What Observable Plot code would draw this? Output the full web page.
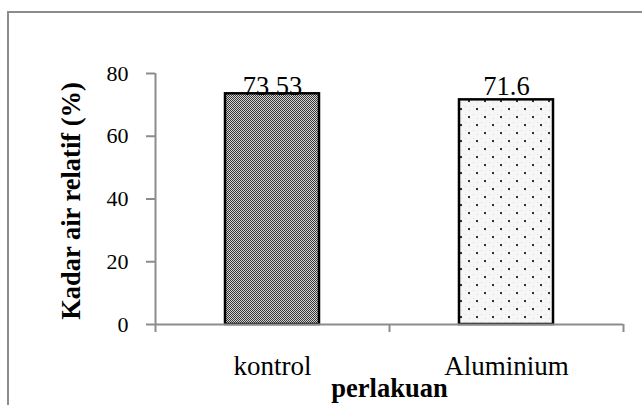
<!DOCTYPE html>
<html>
<head>
<meta charset="utf-8">
<script src="https://cdn.jsdelivr.net/npm/d3@7"></script>
<script src="https://cdn.jsdelivr.net/npm/@observablehq/plot@0.6"></script>
<style>
  html, body { margin: 0; padding: 0; background: #fff; }
  #wrap { position: relative; width: 642px; height: 405px; overflow: hidden; background: #fff; }
  #chart { position: absolute; left: 0; top: 0; }
  #border { position: absolute; left: 7px; top: 11px; width: 700px; height: 500px;
            border-left: 2px solid #8c8c8c; border-top: 2px solid #8c8c8c; pointer-events: none; }
</style>
</head>
<body>
<div id="wrap"><div id="chart"></div><div id="border"></div></div>
<script>
const categories = ["kontrol", "Aluminium"];
const values = [73.53, 71.6];
const valueLabels = ["73.53", "71.6"];
const yTicks = [0, 20, 40, 60, 80];
const xTitle = "perlakuan";
const yTitle = "Kadar air relatif (%)";

const data = categories.map((c, i) => ({category: c, value: values[i], label: valueLabels[i]}));
const halfStep = 117;
const gray = "#8c8c8c";
const font = "'Liberation Serif', 'Times New Roman', Times, serif";

const chart = Plot.plot({
  width: 642,
  height: 405,
  marginLeft: 155,
  marginRight: 19,
  marginTop: 73,
  marginBottom: 81,
  style: {fontFamily: font, fontSize: "27px", color: "#000", background: "transparent"},
  x: {domain: categories, paddingInner: 0.6, paddingOuter: 0.3, label: null},
  y: {domain: [0, 80], label: null},
  color: {domain: categories, range: ["url(#patKontrol)", "url(#patAlu)"]},
  marks: [
    Plot.barY(data, {x: "category", y: "value", fill: "category", stroke: "#000", strokeWidth: 2.5}),
    Plot.ruleY([0], {stroke: gray, strokeWidth: 2}),
    Plot.ruleX([categories[0]], {x: d => d, dx: -halfStep, y1: 80, y2: 0, insetBottom: -8, stroke: gray, strokeWidth: 2}),
    Plot.ruleX(categories.slice(1), {x: d => d, dx: -halfStep, y1: 0, y2: 0, insetBottom: -8, stroke: gray, strokeWidth: 2}),
    Plot.ruleX(categories.slice(-1), {x: d => d, dx: halfStep, y1: 0, y2: 0, insetBottom: -8, stroke: gray, strokeWidth: 2}),
    Plot.axisY({ticks: yTicks, tickSize: 9, tickPadding: 18, fontSize: 22, stroke: gray, strokeWidth: 2, label: null, tickFormat: d => String(d)}),
    Plot.axisX({tickSize: 0, tickPadding: 31, fontSize: 27, label: null}),
    Plot.text(data, {x: "category", text: "label", frameAnchor: "top", lineAnchor: "bottom", dy: 21, fontSize: 26.5}),
    Plot.text([xTitle], {text: d => d, frameAnchor: "bottom", lineAnchor: "bottom", dy: 72, fontSize: 26.5, fontWeight: "bold"}),
    Plot.text([yTitle], {text: d => d, frameAnchor: "left", textAnchor: "middle", rotate: -90, lineAnchor: "bottom", dx: -76, dy: 2, fontSize: 26.5, fontWeight: "bold"})
  ]
});

d3.select(chart).selectAll('[aria-label="y-axis tick label"]').style("font-size", "22px")
  .selectAll("text").style("font-size", "22px");

const defs = d3.select(chart).insert("defs", ":first-child");
const p1 = defs.append("pattern").attr("id", "patKontrol").attr("patternUnits", "userSpaceOnUse")
  .attr("width", 2).attr("height", 2);
p1.append("rect").attr("width", 2).attr("height", 2).attr("fill", "#d4d4d4");
p1.append("rect").attr("width", 1).attr("height", 1).attr("fill", "#383838");
p1.append("rect").attr("x", 1).attr("y", 1).attr("width", 1).attr("height", 1).attr("fill", "#383838");

const p2 = defs.append("pattern").attr("id", "patAlu").attr("patternUnits", "userSpaceOnUse")
  .attr("width", 16).attr("height", 16);
p2.append("rect").attr("width", 16).attr("height", 16).attr("fill", "#f6f6f6");
[[0,0],[8,8],[4,4],[12,12],[0,8],[8,0],[12,4],[4,12]].forEach(([x, y]) =>
  p2.append("rect").attr("x", x + 1).attr("y", y + 2).attr("width", 1).attr("height", 1).attr("fill", "#d6d6d6"));
[[4,4],[12,12]].forEach(([x, y]) =>
  p2.append("rect").attr("x", x).attr("y", y).attr("width", 2).attr("height", 2).attr("fill", "#333"));

document.getElementById("chart").appendChild(chart);
</script>
</body>
</html>
